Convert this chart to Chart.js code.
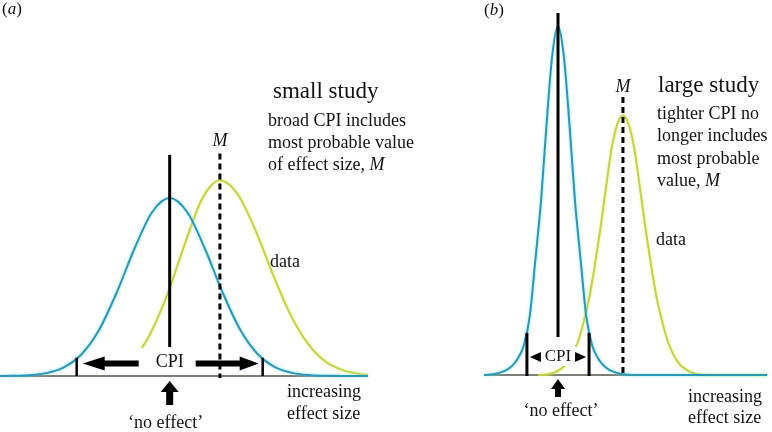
<!DOCTYPE html>
<html>
<head>
<meta charset="utf-8">
<script src="https://cdn.jsdelivr.net/npm/chart.js@4.4.1/dist/chart.umd.min.js"></script>
<style>
  body { margin: 0; background: #fff; width: 772px; height: 432px; position: relative; overflow: hidden; }
  canvas { position: absolute; top: 0; }
  #chartA { left: 0; }
  #chartB { left: 386px; }
</style>
</head>
<body>
<canvas id="chartA" width="430" height="432"></canvas>
<canvas id="chartB" width="386" height="432"></canvas>
<script>
// (a) small study: curve centred on "no effect" and the data curve
const smallNullX = [-3.85, -3.6, -3.2, -2.8, -2.4, -2.0, -1.6, -1.2, -0.8, -0.4, 0, 0.4, 0.8, 1.2, 1.6, 2.0, 2.4, 2.8, 3.2, 3.6, 4.0, 4.5];
const smallNullY = [0.0002, 0.0004, 0.0019, 0.0065, 0.0195, 0.049, 0.104, 0.188, 0.286, 0.368, 0.400, 0.368, 0.286, 0.188, 0.104, 0.049, 0.0195, 0.0065, 0.0019, 0.0004, 0.0001, 0];
const smallDataX = [-0.63, -0.46, -0.06, 0.34, 0.74, 1.14, 1.54, 1.94, 2.34, 2.74, 3.14, 3.54, 3.94, 4.34, 4.5];
const smallDataY = [0.063, 0.091, 0.181, 0.296, 0.399, 0.440, 0.409, 0.329, 0.229, 0.138, 0.072, 0.032, 0.0126, 0.0042, 0.002];
const smallCpi = [-2.11, 2.11];
const smallM = 1.14;

// (b) large study
const largeNullX = [-1.31, -1.2, -1.1, -1.0, -0.9, -0.8, -0.7, -0.6, -0.5, -0.4, -0.3, -0.2, -0.1, 0, 0.1, 0.2, 0.3, 0.4, 0.5, 0.6, 0.7, 0.8, 0.9, 1.0, 1.1, 1.2, 1.31, 3.70];
const largeNullY = [0, 0.002, 0.006, 0.013, 0.025, 0.045, 0.08, 0.14, 0.27, 0.53, 0.80, 1.16, 1.47, 1.60, 1.47, 1.16, 0.80, 0.53, 0.27, 0.14, 0.08, 0.045, 0.025, 0.013, 0.006, 0.002, 0, 0];
const largeDataX = [-0.35, -0.25, -0.15, -0.05, 0.05, 0.15, 0.25, 0.35, 0.45, 0.55, 0.65, 0.75, 0.85, 0.95, 1.05, 1.15, 1.25, 1.35, 1.45, 1.55, 1.65, 1.75, 1.85, 1.95, 2.05, 2.15, 2.25, 2.35, 2.45, 2.55, 2.65, 3.70];
const largeDataY = [0, 0.001, 0.005, 0.013, 0.028, 0.05, 0.09, 0.15, 0.24, 0.35, 0.50, 0.67, 0.86, 1.04, 1.15, 1.19, 1.15, 1.04, 0.86, 0.67, 0.50, 0.35, 0.24, 0.15, 0.09, 0.05, 0.028, 0.013, 0.005, 0.001, 0, 0];
const largeCpi = [-0.55, 0.55];
const largeM = 1.15;

const noEffect = 0;

const blue = '#2c97b4';
const yellow = '#c3d245';
const ink = '#111';
const serif = '"Liberation Serif", "Times New Roman", serif';

function pts(xs, ys) {
    return xs.map((x, i) => ({ x: x, y: ys[i] }));
}

function curve(xs, ys, color) {
    return {
        data: pts(xs, ys),
        borderColor: color,
        borderWidth: 2,
        pointRadius: 0,
        fill: false,
        clip: false,
        cubicInterpolationMode: 'monotone'
    };
}

function text(ctx, str, x, y, size, align, italic) {
    ctx.font = (italic ? 'italic ' : '') + size + 'px ' + serif;
    ctx.textAlign = align || 'left';
    ctx.textBaseline = 'middle';
    ctx.fillStyle = ink;
    ctx.fillText(str, x, y);
}

// draw runs of [string, italic] one after another
function runs(ctx, parts, x, y, size) {
    ctx.textBaseline = 'middle';
    ctx.textAlign = 'left';
    ctx.fillStyle = ink;
    parts.forEach(p => {
        ctx.font = (p[1] ? 'italic ' : '') + size + 'px ' + serif;
        ctx.fillText(p[0], x, y);
        x += ctx.measureText(p[0]).width;
    });
}

function vline(ctx, x, y0, y1, w, dash) {
    ctx.save();
    ctx.strokeStyle = '#000';
    ctx.lineWidth = w;
    ctx.setLineDash(dash || []);
    ctx.beginPath();
    ctx.moveTo(x, y0);
    ctx.lineTo(x, y1);
    ctx.stroke();
    ctx.restore();
}

function arrowH(ctx, x0, x1, y, body, headLen, headHalf) {
    const dir = Math.sign(x1 - x0);
    const xb = x1 - dir * headLen;
    ctx.fillStyle = '#000';
    ctx.beginPath();
    ctx.moveTo(x0, y - body / 2);
    ctx.lineTo(xb, y - body / 2);
    ctx.lineTo(xb, y - headHalf);
    ctx.lineTo(x1, y);
    ctx.lineTo(xb, y + headHalf);
    ctx.lineTo(xb, y + body / 2);
    ctx.lineTo(x0, y + body / 2);
    ctx.closePath();
    ctx.fill();
}

function arrowUp(ctx, x, yTip, yBase, body, headLen, headHalf) {
    const yb = yTip + headLen;
    ctx.fillStyle = '#000';
    ctx.beginPath();
    ctx.moveTo(x, yTip);
    ctx.lineTo(x + headHalf, yb);
    ctx.lineTo(x + body / 2, yb);
    ctx.lineTo(x + body / 2, yBase);
    ctx.lineTo(x - body / 2, yBase);
    ctx.lineTo(x - body / 2, yb);
    ctx.lineTo(x - headHalf, yb);
    ctx.closePath();
    ctx.fill();
}

// baseline under the curves and a soft glow on each curve
const basePlugin = {
    id: 'base',
    beforeDatasetsDraw(chart) {
        const { ctx, chartArea } = chart;
        ctx.save();
        ctx.strokeStyle = '#4f5549';
        ctx.lineWidth = 1.5;
        ctx.beginPath();
        ctx.moveTo(chartArea.left, chartArea.bottom);
        ctx.lineTo(chartArea.right, chartArea.bottom);
        ctx.stroke();
        ctx.restore();
    },
    beforeDatasetDraw(chart, args) {
        const ctx = chart.ctx;
        ctx.save();
        ctx.shadowColor = args.index === 0 ? 'rgba(120,230,245,0.9)' : 'rgba(235,245,120,0.9)';
        ctx.shadowBlur = 3;
    },
    afterDatasetDraw(chart) {
        chart.ctx.restore();
    }
};

const panelA = {
    id: 'panelA',
    afterDatasetsDraw(chart) {
        const { ctx } = chart;
        const xs = chart.scales.x, ys = chart.scales.y;
        const x0 = xs.getPixelForValue(noEffect);
        const xm = xs.getPixelForValue(smallM);
        const xl = xs.getPixelForValue(smallCpi[0]);
        const xr = xs.getPixelForValue(smallCpi[1]);
        const base = ys.getPixelForValue(0);

        vline(ctx, x0, ys.getPixelForValue(0.497), ys.getPixelForValue(0.065), 3);
        vline(ctx, xl, ys.getPixelForValue(0.041), base, 2.5);
        vline(ctx, xr, ys.getPixelForValue(0.041), base, 2.5);

        arrowH(ctx, x0 - 31, xl + 6, 363.5, 6, 22, 7);
        arrowH(ctx, x0 + 26, xr - 4, 363.5, 6, 19, 7);
        vline(ctx, xm, ys.getPixelForValue(0.50), base + 2, 3, [6, 4]);

        arrowUp(ctx, x0, base + 5, base + 29, 7, 11, 9);

        runs(ctx, [['(', false], ['a', true], [')', false]], 2, 10, 17);
        text(ctx, 'small study', 273, 92, 23);
        text(ctx, 'broad CPI includes', 268, 121, 18);
        text(ctx, 'most probable value', 268, 143, 18);
        runs(ctx, [['of effect size, ', false], ['M', true]], 268, 165, 18);
        text(ctx, 'M', xm, 141, 18, 'center', true);
        text(ctx, 'data', 270, 262, 18);
        text(ctx, 'CPI', x0, 362, 18, 'center');
        text(ctx, 'increasing', 287, 392, 18);
        text(ctx, 'effect size', 287, 414, 18);
        text(ctx, '\u2018no effect\u2019', x0 - 4, 423, 18, 'center');
    }
};

const panelB = {
    id: 'panelB',
    afterDatasetsDraw(chart) {
        const { ctx } = chart;
        const xs = chart.scales.x, ys = chart.scales.y;
        const x0 = xs.getPixelForValue(noEffect);
        const xm = xs.getPixelForValue(largeM);
        const xl = xs.getPixelForValue(largeCpi[0]);
        const xr = xs.getPixelForValue(largeCpi[1]);
        const base = ys.getPixelForValue(0);

        // clear a patch for the CPI label
        ctx.fillStyle = '#fff';
        ctx.fillRect(xl + 2, 347, xr - xl - 4, 19);

        vline(ctx, x0, ys.getPixelForValue(1.66), ys.getPixelForValue(0.174), 3);
        vline(ctx, xl, ys.getPixelForValue(0.193), base + 1, 3);
        vline(ctx, xr, ys.getPixelForValue(0.193), base + 1, 3);
        vline(ctx, xm, ys.getPixelForValue(1.275), base + 1, 3, [6, 4]);

        arrowH(ctx, xl + 14, xl + 3, 357, 0, 11, 5);
        arrowH(ctx, xr - 14, xr - 3, 357, 0, 11, 5);
        text(ctx, 'CPI', x0, 357, 17, 'center');

        arrowUp(ctx, x0, base + 4, base + 22, 6, 10, 7);

        runs(ctx, [['(', false], ['b', true], [')', false]], 98, 11, 17);
        text(ctx, 'large study', 272, 86, 23);
        text(ctx, 'tighter CPI no', 271, 114, 18);
        text(ctx, 'longer includes', 271, 136, 18);
        text(ctx, 'most probable', 271, 159, 18);
        runs(ctx, [['value, ', false], ['M', true]], 271, 181, 18);
        text(ctx, 'M', xm, 87, 18, 'center', true);
        text(ctx, 'data', 270, 240, 18);
        text(ctx, 'increasing', 302, 397, 18);
        text(ctx, 'effect size', 302, 418, 18);
        text(ctx, '\u2018no effect\u2019', x0 + 3, 411, 18, 'center');
    }
};

function makeChart(id, datasets, xMin, xMax, yMax, padding, extra) {
    return new Chart(document.getElementById(id).getContext('2d'), {
        type: 'line',
        data: { datasets: datasets },
        options: {
            responsive: false,
            animation: false,
            events: [],
            layout: { padding: padding },
            plugins: { legend: { display: false }, tooltip: { enabled: false } },
            scales: {
                x: { type: 'linear', min: xMin, max: xMax, display: false },
                y: { min: 0, max: yMax, display: false }
            }
        },
        plugins: [basePlugin, extra]
    });
}

makeChart('chartA',
    [curve(smallNullX, smallNullY, blue), curve(smallDataX, smallDataY, yellow)],
    -3.85, 4.5, 0.845, { left: 0, right: 62, top: 0, bottom: 56 }, panelA);

makeChart('chartB',
    [curve(largeNullX, largeNullY, blue), curve(largeDataX, largeDataY, yellow)],
    -1.31, 3.70, 1.72, { left: 98, right: 5, top: 0, bottom: 57 }, panelB);
</script>
</body>
</html>
